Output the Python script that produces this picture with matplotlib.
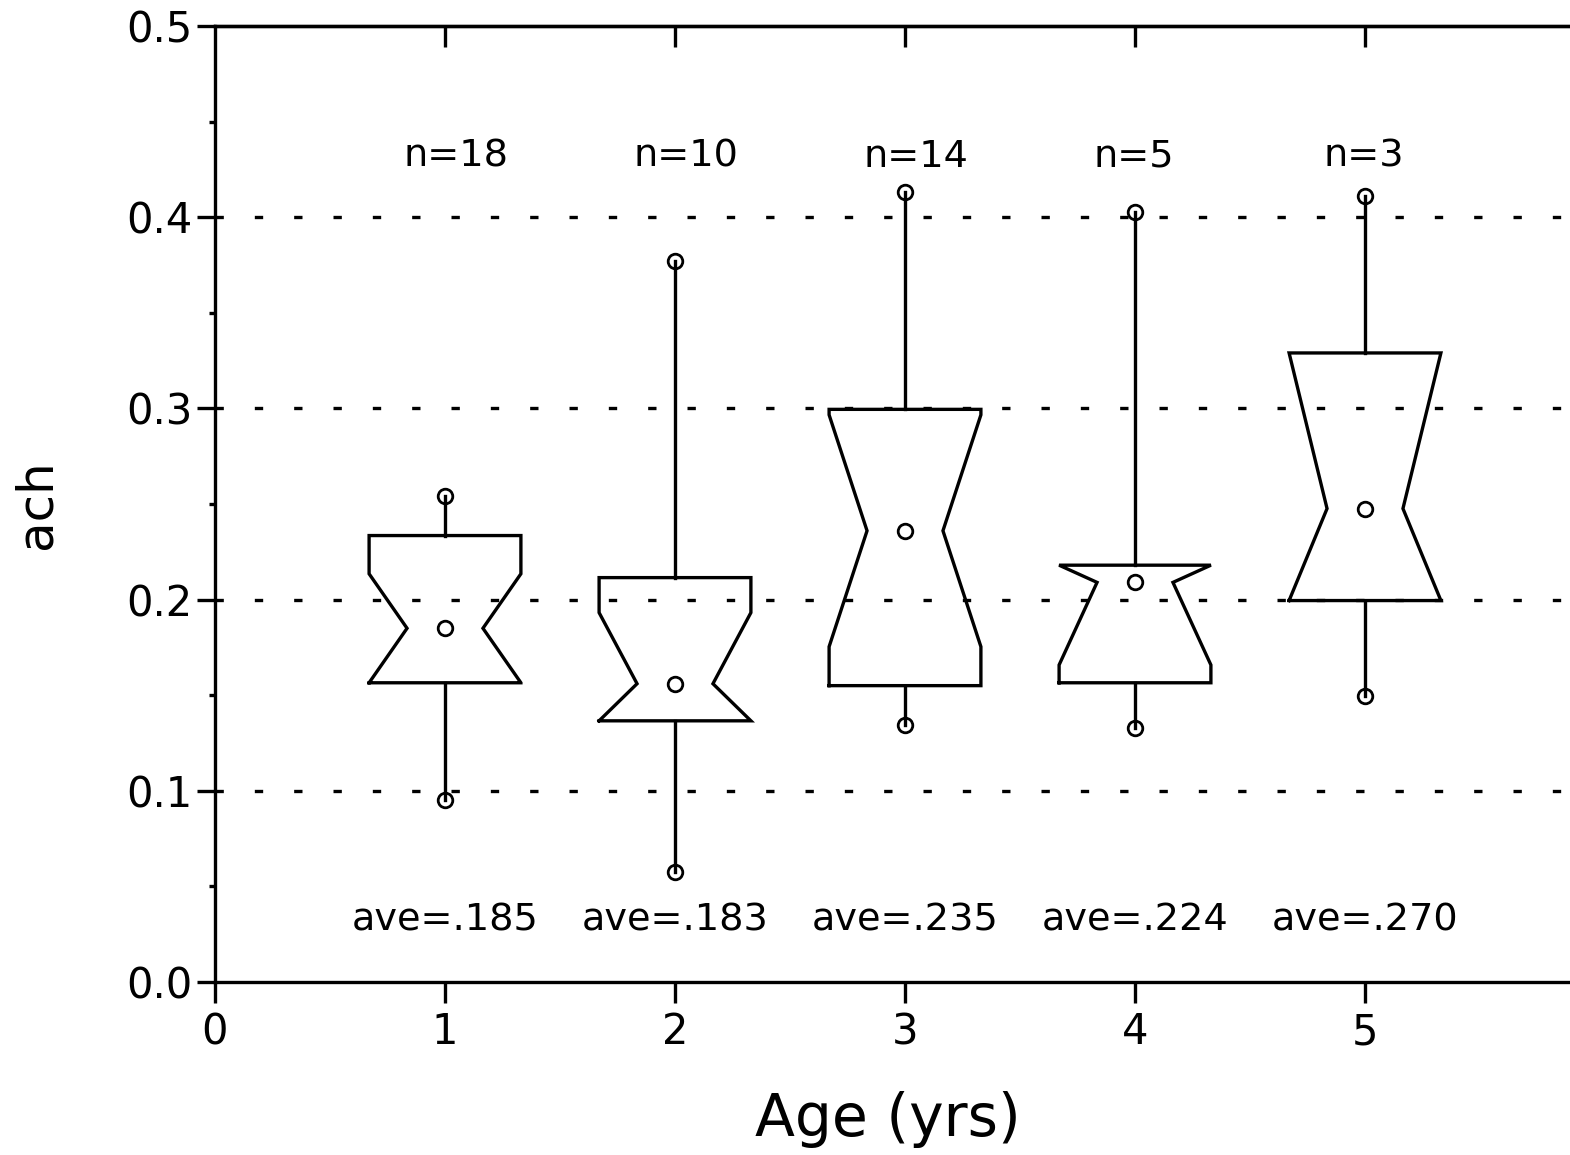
import numpy as np
import matplotlib
matplotlib.use("Agg")
import matplotlib.pyplot as plt

# Summary statistics of "ach" for each age class
ages = [1, 2, 3, 4, 5]
n_obs = [18, 10, 14, 5, 3]
q1 = [0.1565, 0.1366, 0.155, 0.1565, 0.1995]
q3 = [0.2335, 0.2115, 0.2995, 0.218, 0.329]
medians = [0.185, 0.156, 0.236, 0.209, 0.2476]
whisker_lo = [0.095, 0.0576, 0.1346, 0.133, 0.1497]
whisker_hi = [0.254, 0.377, 0.413, 0.4026, 0.411]
averages = [0.185, 0.183, 0.235, 0.224, 0.270]

x_ticks = [0, 1, 2, 3, 4, 5]
y_ticks = [0.0, 0.1, 0.2, 0.3, 0.4, 0.5]
grid_levels = [0.1, 0.2, 0.3, 0.4]

plt.rcParams['font.family'] = ['DejaVu Sans']

W, H = 1570, 1155
fig = plt.figure(figsize=(W / 100, H / 100), dpi=100)
ax = fig.add_axes([215 / W, 1 - 982 / H, 1380 / W, 956 / H])
ax.set_xlim(0, 6)
ax.set_ylim(0, 0.5)

lw = 2.4
# dashed horizontal reference lines
for g in grid_levels:
    ax.axhline(g, color='black', lw=lw, linestyle=(0, (2.5, 9.3)), zorder=1)

half_w = 0.33
for x, n, a, b, m, lo, hi in zip(ages, n_obs, q1, q3, medians, whisker_lo, whisker_hi):
    # notch extent, clipped to the box
    c = 1.57 * (b - a) / np.sqrt(n)
    nlo = max(m - c, a)
    nhi = min(m + c, b)
    xs = [x - half_w, x + half_w, x + half_w, x + half_w / 2, x + half_w, x + half_w,
          x - half_w, x - half_w, x - half_w / 2, x - half_w, x - half_w]
    ys = [a, a, nlo, m, nhi, b, b, nhi, m, nlo, a]
    ax.plot(xs, ys, color='black', lw=lw, solid_joinstyle='miter', zorder=3)
    # whiskers
    ax.plot([x, x], [b, hi], color='black', lw=lw, zorder=3)
    ax.plot([x, x], [lo, a], color='black', lw=lw, zorder=3)
    ax.plot([x, x, x], [lo, m, hi], linestyle='none', marker='o', markersize=10.5,
            markerfacecolor='none', markeredgecolor='black', markeredgewidth=2.0, zorder=4)
    ax.text(x - 0.18, 0.4317, f"n={n}", ha='left', va='center', fontsize=27.5)

for x, v in zip(ages, averages):
    ax.text(x, 0.0324, "ave=" + f"{v:.3f}"[1:], ha='center', va='center', fontsize=27.5)

ax.set_xticks(x_ticks)
ax.set_yticks(y_ticks)
ax.set_yticklabels([f"{t:.1f}" for t in y_ticks])
ax.set_yticks(np.arange(0.05, 0.5, 0.1), minor=True)
ax.tick_params(axis='x', which='major', direction='out', length=15, width=lw,
               labelsize=30, pad=6, top=False)
ax.tick_params(axis='y', which='major', direction='out', length=13, width=lw,
               labelsize=30, pad=3, right=False)
ax.tick_params(axis='y', which='minor', direction='out', length=4, width=lw, right=False)

top = ax.secondary_xaxis('top')
top.set_xticks([1, 2, 3, 4, 5])
top.tick_params(direction='in', length=15, width=lw, labeltop=False)
top.spines['top'].set_linewidth(lw)

for s in ax.spines.values():
    s.set_linewidth(lw)

fig.text(888 / W, 1 - 1120 / H, "Age (yrs)", ha='center', va='center', fontsize=42)
fig.text(37 / W, 1 - 504 / H, "ach", ha='center', va='center', rotation=90, fontsize=36)

fig.savefig("out.png", dpi=100, facecolor='white')
